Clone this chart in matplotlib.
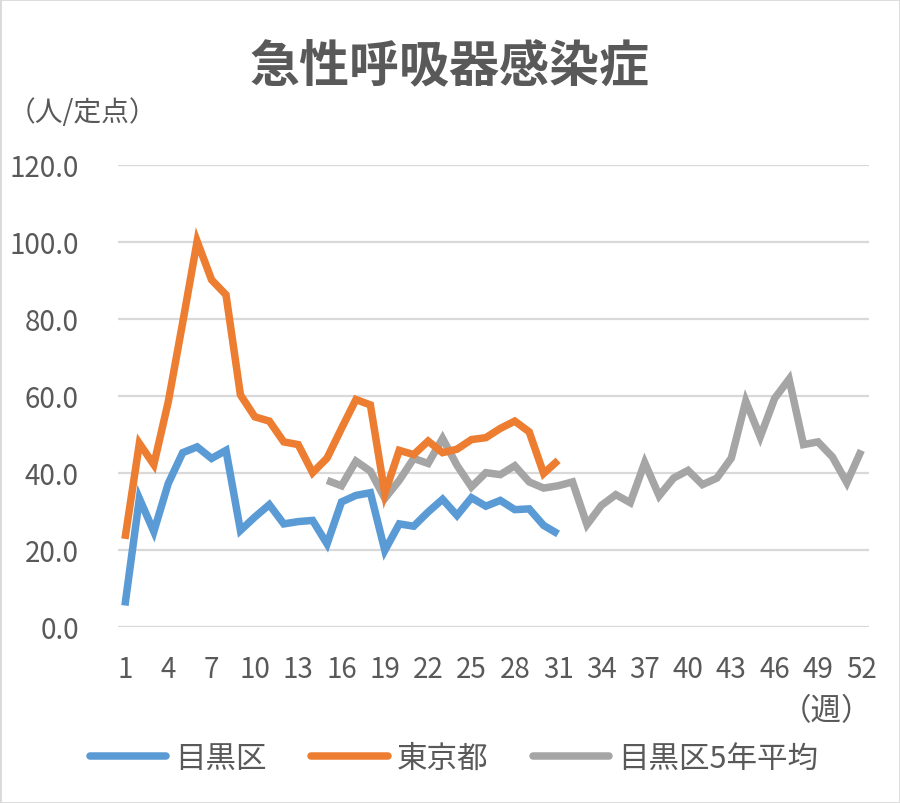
import matplotlib.pyplot as plt
from matplotlib.patches import Rectangle

plt.rcParams['font.family'] = ['Noto Sans CJK JP', 'DejaVu Sans']

# === データ ===
weeks = list(range(1, 53))
meguro = [5.5, 33.3, 24.7, 37.2, 45.2, 46.7, 43.7, 45.8, 25.0, 28.5,
          31.7, 26.7, 27.3, 27.6, 21.5, 32.4, 34.1, 34.8, 19.8, 26.7,
          26.1, 29.8, 33.1, 28.9, 33.5, 31.3, 32.8, 30.4, 30.6, 26.3, 24.1]
tokyo = [22.8, 47.6, 42.1, 58.4, 79.0, 100.1, 90.1, 86.2, 60.2, 54.5,
         53.4, 48.0, 47.3, 40.0, 43.8, 51.5, 59.0, 57.6, 34.6, 45.8,
         44.7, 48.2, 45.2, 46.1, 48.6, 49.1, 51.5, 53.4, 50.6, 39.8, 43.2]
avg_start = 15
meguro_avg = [38.0, 36.6, 43.0, 40.4, 33.3, 38.0, 43.7, 42.4, 48.9, 41.9,
              36.3, 40.0, 39.5, 41.8, 37.6, 36.0, 36.6, 37.6, 26.5, 31.5,
              34.3, 32.2, 42.6, 34.0, 38.6, 40.6, 36.9, 38.6, 43.8, 58.6,
              49.3, 59.3, 64.3, 47.3, 48.0, 44.1, 37.4, 45.8]
series_names = ['目黒区', '東京都', '目黒区5年平均']
yticks = [0, 20, 40, 60, 80, 100, 120]
xticks = list(range(1, 53, 3))

# === 色 ===
c_blue = '#5B9BD5'
c_orange = '#ED7D31'
c_gray = '#A5A5A5'
c_text = '#595959'
c_grid = '#D9D9D9'

fig = plt.figure(figsize=(9, 8.04), dpi=100)
ax = fig.add_axes([0.1308, 0.2193, 0.965 - 0.1308, 0.7939 - 0.2193])

lw = 5.4
w_avg = weeks[avg_start - 1:avg_start - 1 + len(meguro_avg)]
l3, = ax.plot(w_avg, meguro_avg, color=c_gray, lw=lw, zorder=3,
              solid_joinstyle='miter', solid_capstyle='butt')
l1, = ax.plot(weeks[:len(meguro)], meguro, color=c_blue, lw=lw, zorder=4,
              solid_joinstyle='miter', solid_capstyle='butt')
l2, = ax.plot(weeks[:len(tokyo)], tokyo, color=c_orange, lw=lw, zorder=5,
              solid_joinstyle='miter', solid_capstyle='butt')

ax.set_xlim(0.5, 52.5)
ax.set_ylim(0, 120)
ax.set_yticks(yticks)
ax.set_yticklabels([f'{v:.1f}' for v in yticks])
ax.set_xticks(xticks)
ax.set_xticklabels([str(v) for v in xticks])
ax.yaxis.grid(True, color=c_grid, lw=1.6)
ax.set_axisbelow(True)
for s in ax.spines.values():
    s.set_visible(False)
ax.tick_params(axis='both', length=0, labelsize=20, colors=c_text)
ax.tick_params(axis='y', pad=28)
ax.tick_params(axis='x', pad=20)

fig.text(449 / 900, 1 - 68 / 804, '急性呼吸器感染症', ha='center', va='center',
         fontsize=36, fontweight='bold', color=c_text)
fig.text(8 / 900, 1 - 113 / 804, '（人/定点）', ha='left', va='center',
         fontsize=20, color=c_text)
fig.text(872 / 900, 1 - 712 / 804, '（週）', ha='right', va='center',
         fontsize=22, color=c_text)

leg = fig.legend([l1, l2, l3], series_names, loc='center',
                 bbox_to_anchor=(454 / 900, 1 - 759 / 804), ncol=3,
                 frameon=False, fontsize=22, handlelength=2.5,
                 handletextpad=0.3, columnspacing=1.45, labelcolor=c_text)
for h in leg.legend_handles:
    h.set_solid_capstyle('round')

fig.patches.append(Rectangle((0, 0), 1, 1, transform=fig.transFigure,
                             fill=False, edgecolor=c_grid, lw=2))

fig.savefig('out.png', dpi=100, facecolor='white')
